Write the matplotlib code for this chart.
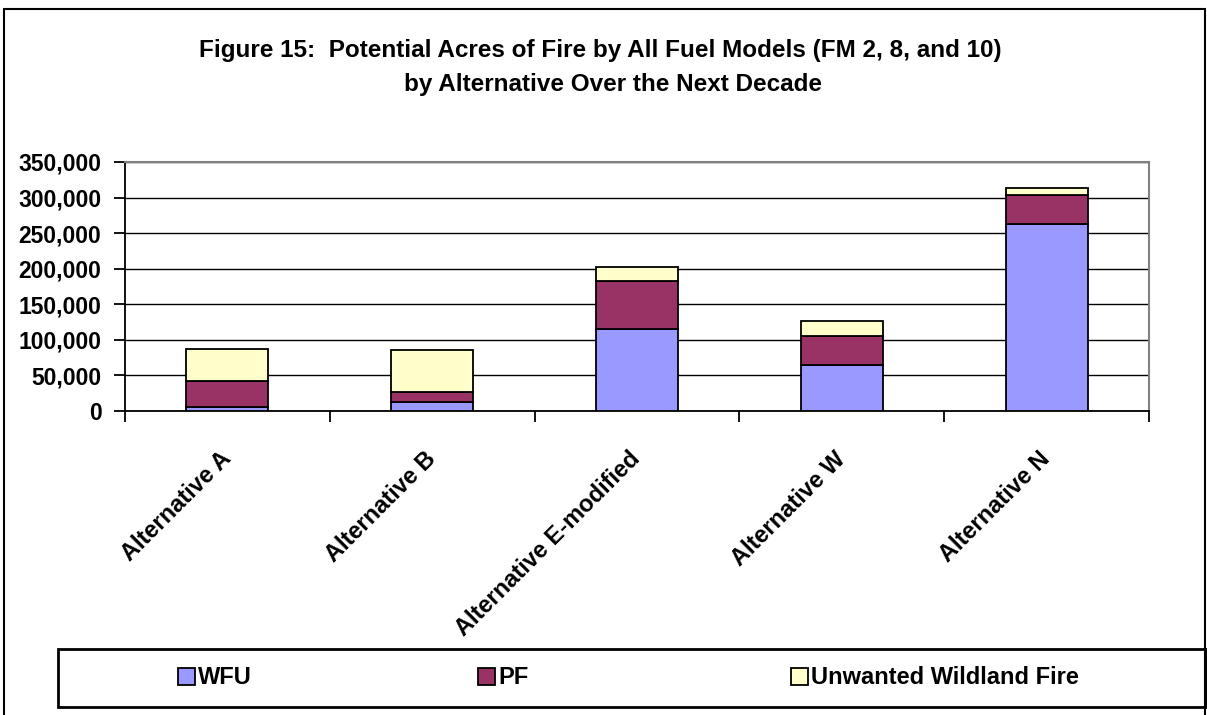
import numpy as np
import matplotlib
matplotlib.use("Agg")
import matplotlib.pyplot as plt
import matplotlib.transforms as mtransforms
from matplotlib.patches import Rectangle
from matplotlib.ticker import FuncFormatter, FixedLocator

categories = ["Alternative A", "Alternative B", "Alternative E-modified",
              "Alternative W", "Alternative N"]
wfu = [6000, 13000, 115000, 64000, 263000]
pf = [36000, 13500, 68000, 41000, 40000]
unwanted = [45000, 59500, 19500, 22000, 10000]
series_names = ["WFU", "PF", "Unwanted Wildland Fire"]
colors = ["#9999FF", "#993366", "#FFFFCC"]

W, H = 1207, 715
plt.rcParams['font.family'] = ['Liberation Sans', 'DejaVu Sans']
plt.rcParams['font.weight'] = 'bold'
fs = 17

fig = plt.figure(figsize=(W / 100, H / 100), dpi=100)
ax = fig.add_axes([125 / W, 1 - 411 / H, (1149 - 125) / W, (411 - 162) / H])

x = np.arange(len(categories))
bw = 0.4
bottom = np.zeros(len(categories))
bars = []
for vals, name, col in zip([wfu, pf, unwanted], series_names, colors):
    b = ax.bar(x, vals, bw, bottom=bottom, color=col, edgecolor='black',
               linewidth=1.3, label=name, zorder=3)
    bars.append(b)
    bottom += np.array(vals)

ax.set_xlim(-0.5, len(categories) - 0.5)
ax.set_ylim(0, 350000)
ax.set_yticks(np.arange(0, 350001, 50000))
ax.yaxis.set_major_formatter(FuncFormatter(lambda v, p: f"{int(v):,}"))
ax.yaxis.grid(True, color='black', linewidth=1.0)
ax.set_axisbelow(True)

ax.set_xticks(x)
ax.set_xticklabels(categories, rotation=45, ha='right', va='center',
                   rotation_mode='anchor', fontsize=fs, fontweight='bold')
shift = mtransforms.ScaledTranslation(-10 / 100, 0, fig.dpi_scale_trans)
for lbl in ax.get_xticklabels():
    lbl.set_transform(lbl.get_transform() + shift)
ax.xaxis.set_minor_locator(FixedLocator(np.arange(-0.5, len(categories), 1)))
ax.tick_params(axis='x', which='major', length=0, pad=32)
ax.tick_params(axis='x', which='minor', length=8, width=1.3, direction='out')
ax.tick_params(axis='y', length=8, width=1.3, labelsize=16.5, pad=9)
for lbl in ax.get_yticklabels():
    lbl.set_fontweight('bold')

ax.spines['left'].set_color('black')
ax.spines['left'].set_linewidth(1.3)
ax.spines['bottom'].set_color('black')
ax.spines['bottom'].set_linewidth(1.3)
ax.spines['top'].set_color('#808080')
ax.spines['top'].set_linewidth(1.5)
ax.spines['right'].set_color('#808080')
ax.spines['right'].set_linewidth(1.5)

# title
fig.text(600 / W, 1 - 51 / H,
         "Figure 15:  Potential Acres of Fire by All Fuel Models (FM 2, 8, and 10)",
         ha='center', va='center', fontsize=17.5, fontweight='bold')
fig.text(613 / W, 1 - 85 / H, "by Alternative Over the Next Decade",
         ha='center', va='center', fontsize=17.5, fontweight='bold')

# outer border
fig.patches.append(Rectangle((4 / W, -0.01), (1205 - 4) / W, 1.01 - 9 / H,
                             transform=fig.transFigure, fill=False,
                             edgecolor='black', linewidth=1.5))
# legend box
fig.patches.append(Rectangle((58 / W, 1 - 707 / H), (1206 - 58) / W, (707 - 649) / H,
                             transform=fig.transFigure, fill=False,
                             edgecolor='black', linewidth=2))

legend_x = [178, 478, 791]
for b, name, lx in zip(bars, series_names, legend_x):
    fig.legend(handles=[b], labels=[name], loc='center left',
               bbox_to_anchor=(lx / W, 1 - 678 / H), frameon=False,
               prop={'size': fs, 'weight': 'bold'}, handlelength=0.7,
               handleheight=0.7, handletextpad=0.15, borderpad=0,
               borderaxespad=0)

fig.savefig("out.png", dpi=100)
